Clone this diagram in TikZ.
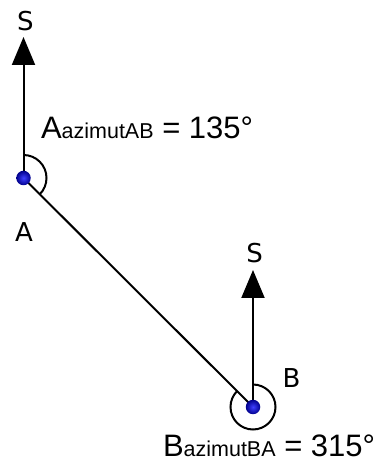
\documentclass[tikz,border=0pt]{standalone}
\usepackage{fontspec}
\setmainfont{Liberation Sans}
\newfontfamily\dejavu{DejaVu Sans}
\usetikzlibrary{arrows.meta}
\begin{document}
\begin{tikzpicture}[x=1pt,y=1pt,line width=2pt,
  dot/.style={circle,inner sep=0pt,minimum size=14.5pt,shading=radial,
    inner color=blue!75!white,outer color=blue!55!black},
  lbl/.style={inner sep=0pt,font=\dejavu\fontsize{26}{30}\selectfont},
  eq/.style={inner sep=0pt,anchor=base west,font=\fontsize{31}{35}\selectfont},
  arr/.style={-{Triangle[length=28pt,width=23pt]}}]
\useasboundingbox (0,0) rectangle (374,463);
% points
\coordinate (Ac) at (23.5,285);
\coordinate (Bc) at (253,56);
\coordinate (Atip) at (23.5,426);
\coordinate (Btip) at (253,193);
% north arrows
\draw[arr] (Ac) -- (Atip);
\draw[arr] (Bc) -- (Btip);
% line AB
\draw (Ac) -- (Bc);
% angle arcs
\draw ([shift={(90:23)}]Ac) arc[start angle=90,end angle=-45,radius=23];
\draw ([shift={(90:22.5)}]Bc) arc[start angle=90,end angle=-225,radius=22.5];
% dots
\node[dot] (A) at (Ac) {};
\node[dot] (B) at (Bc) {};
% labels
\node[lbl] (SA) at (25.5,442) {S};
\node[lbl] (SB) at (254.5,209.5) {S};
\node[lbl] (LA) at (24,230.5) {A};
\node[lbl] (LB) at (291.5,84.5) {B};
% equations
\node[eq] (EA) at (40,324) {A{\fontsize{21.5}{24}\selectfont azimutAB} = 135°};
\node[eq] (EB) at (162,6) {B{\fontsize{21.5}{24}\selectfont azimutBA} = 315°};
\end{tikzpicture}
\end{document}
